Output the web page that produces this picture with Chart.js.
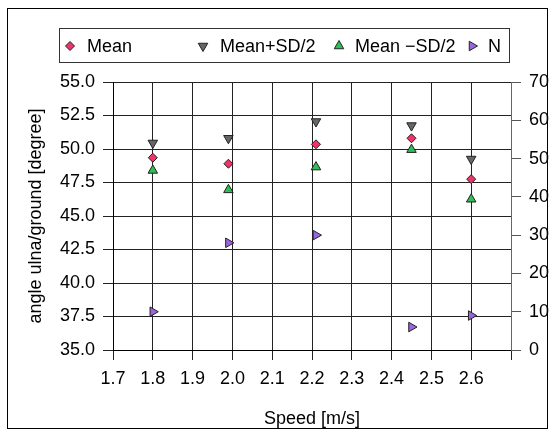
<!DOCTYPE html>
<html>
<head>
<meta charset="utf-8">
<title>angle ulna/ground vs speed</title>
<script src="https://cdn.jsdelivr.net/npm/chart.js@4/dist/chart.umd.min.js"></script>
<style>
    html, body { margin: 0; padding: 0; background: #fff; }
    #chart { display: block; }
</style>
</head>
<body>
<canvas id="chart" width="554" height="435"></canvas>
<script>
// Data
const speeds = [1.8, 1.99, 2.21, 2.45, 2.6];
const meanVals = [49.35, 48.9, 50.35, 50.8, 47.75];
const plusHalfSd = [50.45, 50.8, 52.05, 51.75, 49.25];
const minusHalfSd = [48.4, 46.95, 48.65, 49.95, 46.25];
const nVals = [10, 28, 30, 6, 9];

const seriesNames = ['Mean', 'Mean+SD/2', 'Mean \u2212SD/2', 'N'];

const FONT = '"Liberation Sans", Arial, sans-serif';

function toPoints(ys) {
    return speeds.map((x, i) => ({ x: x, y: ys[i] }));
}

// Outer frame around the whole figure
const framePlugin = {
    id: 'frame',
    beforeDraw(chart) {
        const ctx = chart.ctx;
        ctx.save();
        ctx.fillStyle = '#fff';
        ctx.fillRect(0, 0, chart.width, chart.height);
        ctx.strokeStyle = '#000';
        ctx.lineWidth = 1;
        ctx.strokeRect(7.5, 8.5, 540, 420);
        ctx.restore();
    }
};

// Boxed legend laid out like the original (uneven item spacing)
const legendPlugin = {
    id: 'boxLegend',
    afterDraw(chart) {
        const ctx = chart.ctx;
        const markerX = [70, 203, 339, 472];
        const textX = [87, 220, 355, 488];
        const cy = 46;
        ctx.save();
        ctx.fillStyle = '#fff';
        ctx.fillRect(59.5, 28.5, 450, 34);
        ctx.strokeStyle = '#333';
        ctx.lineWidth = 1;
        ctx.strokeRect(59.5, 28.5, 450, 34);
        chart.data.datasets.forEach((ds, i) => {
            ctx.fillStyle = ds.backgroundColor;
            ctx.strokeStyle = ds.borderColor;
            ctx.lineWidth = 1;
            Chart.helpers.drawPoint(ctx, {
                pointStyle: ds.pointStyle,
                radius: ds.pointRadius,
                rotation: ds.rotation || 0,
                borderWidth: 1
            }, markerX[i], cy);
            ctx.fillStyle = '#000';
            ctx.font = '18px ' + FONT;
            ctx.textBaseline = 'middle';
            ctx.textAlign = 'left';
            ctx.fillText(ds.label, textX[i], cy + 1);
        });
        ctx.restore();
    }
};

new Chart(document.getElementById('chart'), {
    type: 'scatter',
    data: {
        datasets: [
            {
                label: seriesNames[0],
                data: toPoints(meanVals),
                pointStyle: 'rectRot',
                pointRadius: 4.5,
                backgroundColor: '#f0336a',
                borderColor: '#222',
                borderWidth: 1,
                yAxisID: 'y'
            },
            {
                label: seriesNames[1],
                data: toPoints(plusHalfSd),
                pointStyle: 'triangle',
                rotation: 180,
                pointRadius: 5.5,
                backgroundColor: '#666666',
                borderColor: '#222',
                borderWidth: 1,
                yAxisID: 'y'
            },
            {
                label: seriesNames[2],
                data: toPoints(minusHalfSd),
                pointStyle: 'triangle',
                pointRadius: 5.5,
                backgroundColor: '#2fbf55',
                borderColor: '#222',
                borderWidth: 1,
                yAxisID: 'y'
            },
            {
                label: seriesNames[3],
                data: toPoints(nVals),
                pointStyle: 'triangle',
                rotation: 90,
                pointRadius: 5.5,
                backgroundColor: '#9a66dd',
                borderColor: '#222',
                borderWidth: 1,
                yAxisID: 'y2'
            }
        ]
    },
    options: {
        responsive: false,
        animation: false,
        layout: { padding: { top: 82, left: 0, right: 0, bottom: 0 } },
        plugins: {
            legend: { display: false },
            tooltip: { enabled: false }
        },
        scales: {
            x: {
                type: 'linear',
                min: 1.7,
                max: 2.7,
                afterFit: (scale) => { scale.height = 85; },
                ticks: {
                    stepSize: 0.1,
                    color: '#000',
                    padding: 8,
                    maxRotation: 0,
                    font: { family: FONT, size: 18 },
                    callback: (v) => (v > 2.65 ? '' : Number(v).toFixed(1))
                },
                grid: { color: '#222', lineWidth: 1, tickLength: 10 },
                border: { color: '#000' },
                title: {
                    display: true,
                    text: 'Speed [m/s]',
                    color: '#000',
                    font: { family: FONT, size: 18 },
                    padding: { top: 0, bottom: 5 }
                }
            },
            y: {
                position: 'left',
                min: 35,
                max: 55,
                afterFit: (scale) => { scale.width = 113; },
                ticks: {
                    stepSize: 2.5,
                    color: '#000',
                    padding: 8,
                    font: { family: FONT, size: 18 },
                    callback: (v) => Number(v).toFixed(1)
                },
                grid: { color: '#222', lineWidth: 1, tickLength: 10 },
                border: { color: '#000' },
                title: {
                    display: true,
                    text: 'angle ulna/ground [degree]',
                    color: '#000',
                    font: { family: FONT, size: 18 },
                    padding: { top: 25, bottom: 0 }
                }
            },
            y2: {
                position: 'right',
                min: 0,
                max: 70,
                afterFit: (scale) => { scale.width = 43; },
                ticks: {
                    stepSize: 10,
                    color: '#000',
                    padding: 8,
                    font: { family: FONT, size: 18 }
                },
                grid: { drawOnChartArea: false, color: '#555', tickLength: 10 },
                border: { color: '#666', width: 1 }
            }
        }
    },
    plugins: [framePlugin, legendPlugin]
});
</script>
</body>
</html>
